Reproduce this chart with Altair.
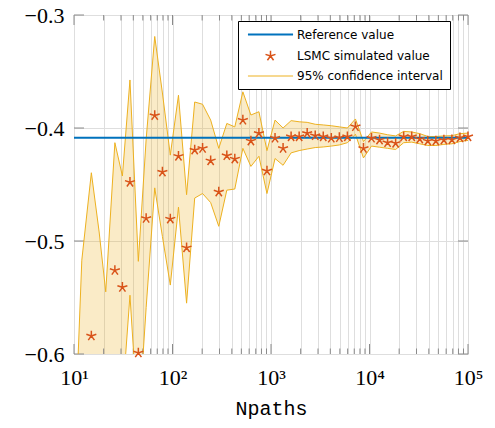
import altair as alt
import pandas as pd

# ---------------- data ----------------
npaths = [10, 12, 15, 18, 21, 26, 31, 37, 45, 54, 66, 79, 95, 115, 139, 168, 202, 244,
          295, 356, 429, 518, 625, 754, 910, 1099, 1326, 1600, 1931, 2330, 2812, 3393,
          4095, 4942, 5964, 7197, 8685, 10481, 12649, 15264, 18421, 22230, 26827, 32375,
          39069, 47149, 56899, 68665, 82864, 100000]

lsmc_value = [-0.85, -0.67, -0.584, -0.64, -0.69, -0.526, -0.541, -0.448, -0.599, -0.480,
              -0.389, -0.439, -0.4805, -0.425, -0.506, -0.4195, -0.418, -0.429, -0.4566, -0.4245,
              -0.4274, -0.393, -0.4115, -0.4047, -0.438, -0.409, -0.418, -0.4077, -0.4077, -0.4047,
              -0.4068, -0.4077, -0.409, -0.4085, -0.4077, -0.3988, -0.418, -0.409, -0.4106, -0.413,
              -0.4135, -0.4077, -0.4077, -0.4097, -0.4115, -0.4115, -0.4106, -0.4104, -0.4086, -0.4077]

ci_lower = [-1.00, -0.82, -0.728, -0.79, -0.84, -0.638, -0.640, -0.548, -0.665, -0.559,
            -0.453, -0.496, -0.539, -0.470, -0.555, -0.462, -0.458, -0.466, -0.487, -0.455,
            -0.454, -0.418, -0.434, -0.425, -0.458, -0.427, -0.433, -0.422, -0.420, -0.4186,
            -0.4173, -0.4168, -0.416, -0.415, -0.413, -0.4055, -0.4265, -0.416, -0.417, -0.418,
            -0.419, -0.413, -0.4125, -0.414, -0.4155, -0.4155, -0.4145, -0.414, -0.412, -0.411]

ci_upper = [-0.696, -0.517, -0.4396, -0.492, -0.545, -0.413, -0.4425, -0.3575, -0.518, -0.410,
            -0.319, -0.369, -0.424, -0.371, -0.459, -0.377, -0.379, -0.393, -0.418, -0.396,
            -0.399, -0.368, -0.3885, -0.3856, -0.420, -0.393, -0.400, -0.3935, -0.3945, -0.395,
            -0.3967, -0.3973, -0.398, -0.399, -0.400, -0.392, -0.412, -0.4035, -0.4045, -0.406,
            -0.407, -0.403, -0.4035, -0.405, -0.4075, -0.4075, -0.407, -0.4068, -0.405, -0.4045]

reference_value = [-0.4087]

series_names = ["Reference value", "LSMC simulated value", "95% confidence interval"]
series_colors = ["#0072BD", "#D95319", "#EDB120"]

x_decades = [10, 100, 1000, 10000, 100000]
x_decade_labels = ["10\u00b9", "10\u00b2", "10\u00b3", "10\u2074", "10\u2075"]
x_minor = [20, 30, 40, 50, 60, 70, 80, 90,
           200, 300, 400, 500, 600, 700, 800, 900,
           2000, 3000, 4000, 5000, 6000, 7000, 8000, 9000,
           20000, 30000, 40000, 50000, 60000, 70000, 80000, 90000]
y_ticks = [-0.6, -0.5, -0.4, -0.3]
x_title = "Npaths"

# ---------------- styling ----------------
W, H = 394, 339
line_path = "M-4.3,0H4.3"
star_path = ("M0,0L0,-1M0,0L-0.951,-0.309M0,0L-0.588,0.809"
             "M0,0L0.588,0.809M0,0L0.951,-0.309")
series_shapes = [line_path, star_path, line_path]
series_widths = [2, 1, 1]
tick_color = "#8a8a8a"
grid_color = "#dedede"

df = pd.DataFrame({"N": npaths, "value": lsmc_value, "lower": ci_lower, "upper": ci_upper})
ref_df = pd.DataFrame({"value": reference_value, "series": [series_names[0]]})
xmaj_df = pd.DataFrame({"N": x_decades})
xmin_df = pd.DataFrame({"N": x_minor})
ytk_df = pd.DataFrame({"value": y_ticks})

label_expr = ""
for v, lab in zip(x_decades, x_decade_labels):
    label_expr += f"datum.value == {v} ? '{lab}' : "
label_expr += "''"

xscale = alt.Scale(type="log", domain=[10, 100000], nice=False)
yscale = alt.Scale(domain=[-0.6, -0.3], nice=False, zero=False)

x_axis = alt.Axis(values=sorted(x_decades + x_minor), labelExpr=label_expr, grid=True,
                  gridColor=grid_color, ticks=False, domain=False, labelFont="Liberation Serif",
                  labelFontSize=22, labelColor="black", labelPadding=13, labelFlush=False,
                  labelOverlap=False, title=x_title, titleFont="Liberation Mono",
                  titleFontSize=20, titleFontWeight="normal", titleColor="black",
                  titlePadding=10)
y_axis = alt.Axis(values=y_ticks, format=".1f", grid=True, gridColor=grid_color, ticks=False,
                  domain=False, labelFont="Liberation Serif", labelFontSize=22,
                  labelColor="black", labelPadding=10, title=None)

legend = alt.Legend(title=None, orient="none", legendX=164, legendY=6, strokeColor="black",
                    fillColor="white", padding=7, symbolOffset=19, labelOffset=20,
                    labelFont="DejaVu Sans", labelFontSize=12, labelColor="black", rowPadding=6,
                    cornerRadius=0, symbolSize=110)

color_scale = alt.Scale(domain=series_names, range=series_colors)
shape_scale = alt.Scale(domain=series_names, range=series_shapes)
sw_scale = alt.Scale(domain=series_names, range=series_widths)

color = alt.Color("series:N", scale=color_scale, legend=legend)
shape = alt.Shape("series:N", scale=shape_scale, legend=legend)
swidth = alt.StrokeWidth("series:N", scale=sw_scale, legend=legend)

X = alt.X("N:Q", scale=xscale, axis=x_axis)


def Y(field):
    return alt.Y(f"{field}:Q", scale=yscale, axis=y_axis, title=None)


base = alt.Chart(df)

band = base.mark_area(clip=True, color="#EDB120", opacity=0.25).encode(
    x=X, y=Y("lower"), y2="upper:Q",
)

ci_up = base.transform_calculate(series=f"'{series_names[2]}'").mark_line(clip=True).encode(
    x=X, y=Y("upper"), color=color, strokeWidth=swidth,
)
ci_lo = base.transform_calculate(series=f"'{series_names[2]}'").mark_line(clip=True).encode(
    x=X, y=Y("lower"), color=color, strokeWidth=swidth,
)

ref = alt.Chart(ref_df).mark_rule().encode(
    y=Y("value"), color=color, strokeWidth=swidth,
)

stars = base.transform_calculate(series=f"'{series_names[1]}'").transform_filter(
    "datum.value >= -0.6"
).mark_point(filled=False, size=110, opacity=1).encode(
    x=X, y=Y("value"), color=color, shape=shape, strokeWidth=swidth,
)

# inside tick marks
tick_bot_min = alt.Chart(xmin_df).mark_rule(color=tick_color).encode(
    x=X, y=alt.value(H), y2=alt.value(H - 5.5))
tick_top_min = alt.Chart(xmin_df).mark_rule(color=tick_color).encode(
    x=X, y=alt.value(0), y2=alt.value(5.5))
tick_bot_maj = alt.Chart(xmaj_df).mark_rule(color=tick_color).encode(
    x=X, y=alt.value(H), y2=alt.value(H - 10))
tick_top_maj = alt.Chart(xmaj_df).mark_rule(color=tick_color).encode(
    x=X, y=alt.value(0), y2=alt.value(10))
tick_left = alt.Chart(ytk_df).mark_rule(color=tick_color).encode(
    y=Y("value"), x=alt.value(0), x2=alt.value(10))
tick_right = alt.Chart(ytk_df).mark_rule(color=tick_color).encode(
    y=Y("value"), x=alt.value(W - 10), x2=alt.value(W))

chart = alt.layer(
    band, tick_bot_min, tick_top_min, tick_bot_maj, tick_top_maj, tick_left, tick_right,
    ci_up, ci_lo, ref, stars
).properties(
    width=W, height=H,
    padding={"left": 74, "top": 15, "right": 27, "bottom": 74},
    autosize=alt.AutoSizeParams(type="none"),
).configure_view(
    stroke="#222222", strokeWidth=1
).configure(
    font="Liberation Serif", background="white"
)

chart.save("out.html", embed_options={"renderer": "svg", "actions": False})
